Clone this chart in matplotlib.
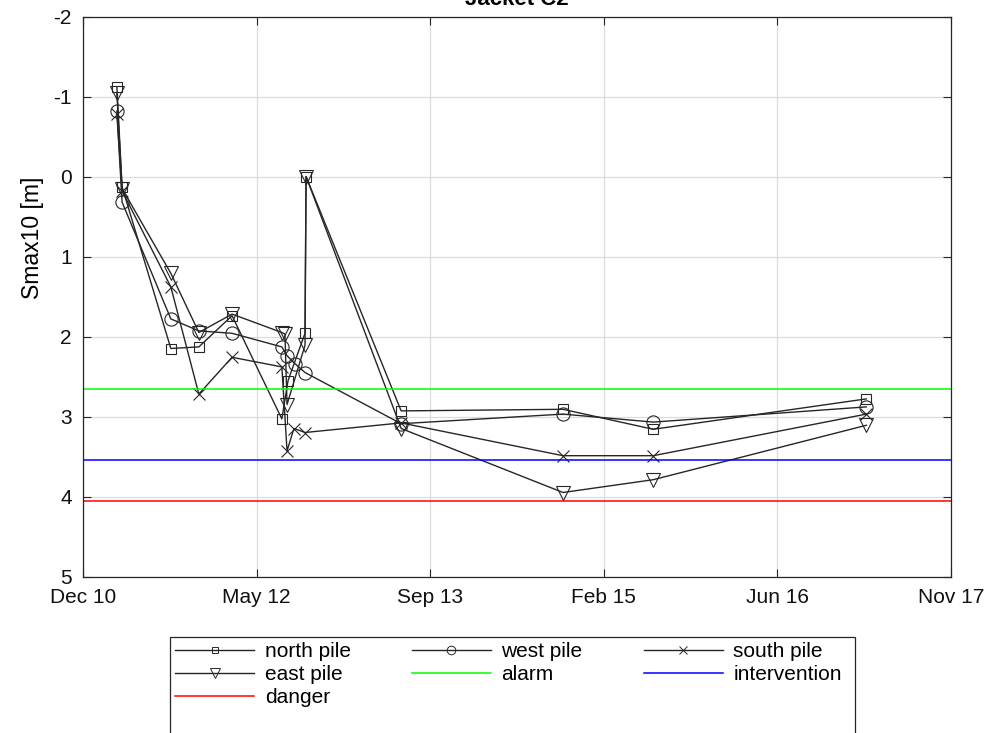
import numpy as np
import pandas as pd
import matplotlib
matplotlib.use("Agg")
import matplotlib.pyplot as plt
import matplotlib.dates as mdates
from matplotlib.lines import Line2D
from matplotlib.patches import Rectangle

plt.rcParams['font.family'] = ['Liberation Sans', 'DejaVu Sans']
plt.rcParams['axes.unicode_minus'] = False

# survey dates and Smax10 values per pile
north_dates = ["2011-04-02", "2011-04-17", "2011-09-05", "2011-11-25", "2012-02-29",
               "2012-07-22", "2012-08-09", "2012-09-27", "2012-09-30",
               "2013-07-02", "2014-10-13", "2015-07-01", "2017-03-08"]
north_vals = [-1.12, 0.13, 2.15, 2.13, 1.74, 3.03, 2.55, 1.96, 0.0, 2.93, 2.91, 3.16, 2.78]

west_dates = ["2011-04-02", "2011-04-17", "2011-09-05", "2011-11-25", "2012-02-29",
              "2012-07-22", "2012-08-06", "2012-08-29", "2012-09-27",
              "2013-07-02", "2014-10-13", "2015-07-01", "2017-03-08"]
west_vals = [-0.82, 0.32, 1.78, 1.93, 1.96, 2.13, 2.24, 2.34, 2.45, 3.09, 2.97, 3.07, 2.88]

south_dates = ["2011-04-02", "2011-04-17", "2011-09-05", "2011-11-25", "2012-02-29",
               "2012-07-22", "2012-08-06", "2012-08-26", "2012-09-27",
               "2013-07-02", "2014-10-13", "2015-07-01", "2017-03-08"]
south_vals = [-0.78, 0.18, 1.38, 2.72, 2.26, 2.38, 3.43, 3.15, 3.20, 3.08, 3.49, 3.49, 2.97]

east_dates = ["2011-04-02", "2011-04-17", "2011-09-05", "2011-11-25", "2012-02-29",
              "2012-07-22", "2012-07-31", "2012-08-06", "2012-09-27", "2012-09-30",
              "2013-07-02", "2014-10-13", "2015-07-01", "2017-03-08"]
east_vals = [-1.04, 0.15, 1.21, 1.95, 1.72, 1.95, 1.97, 2.85, 2.11, 0.0, 3.15, 3.95, 3.79, 3.11]

alarm_level = 2.65
intervention_level = 3.54
danger_level = 4.06

tick_start = pd.Timestamp("2010-12-25")
tick_step = 502  # days
n_ticks = 6

line_col = '#262626'

fig = plt.figure(figsize=(9.99, 7.33), dpi=100)
ax = fig.add_axes([83/999, 1 - 576.5/733, (951-83)/999, 560/733])

series = [(north_dates, north_vals, 's', 7.5, 'north pile'),
          (west_dates, west_vals, 'o', 9.5, 'west pile'),
          (south_dates, south_vals, 'x', 8, 'south pile'),
          (east_dates, east_vals, 'v', 10, 'east pile')]
hnds = {}
for dts, vals, mk, ms, lb in series:
    ax.plot(pd.to_datetime(dts), vals, color=line_col, lw=1.0, marker=mk, ms=ms,
            mfc='none', mec=line_col, mew=0.8)
    hnds[lb] = Line2D([], [], color=line_col, lw=1.0, marker=mk, ms=ms*0.65,
                      mfc='none', mec=line_col, mew=0.7, label=lb)

for lev, col, lb in [(alarm_level, '#00ff00', 'alarm'),
                     (intervention_level, '#0000ff', 'intervention'),
                     (danger_level, '#ff0000', 'danger')]:
    ax.axhline(lev, color=col, lw=1.1)
    hnds[lb] = Line2D([], [], color=col, lw=1.1, label=lb)

ticks = [tick_start + pd.Timedelta(days=tick_step*k) for k in range(n_ticks)]
ax.set_xlim(ticks[0], ticks[-1])
ax.set_xticks(ticks)
ax.xaxis.set_major_formatter(mdates.DateFormatter('%b %y'))
ax.set_ylim(5, -2)
ax.set_yticks(range(-2, 6))

ax.grid(True, color='#dcdcdc', lw=0.9)
ax.set_axisbelow(True)
for sp in ax.spines.values():
    sp.set_color(line_col)
    sp.set_linewidth(0.9)
ax.tick_params(direction='in', length=6, width=0.8, color=line_col,
               labelsize=15, labelcolor='#111111', top=True, right=True, pad=8)
ax.set_ylabel('Smax10 [m]', fontsize=16.5)
ax.yaxis.set_label_coords(-0.045, 0.605)

fig.text(517/999, 1 - 5/733, 'Jacket C2', ha='center', va='baseline',
         fontsize=16, fontweight='bold')

# legend filled row by row (matplotlib fills columns, so reorder)
order = ['north pile', 'east pile', 'danger', 'west pile', 'alarm',
         'south pile', 'intervention']
leg = fig.legend(handles=[hnds[k] for k in order], ncol=3, loc='upper left',
                 bbox_to_anchor=(170/999, 1 - 637/733), borderaxespad=0,
                 fontsize=15, handlelength=3.8, handletextpad=0.5,
                 columnspacing=2.93, labelspacing=0.19, borderpad=0.25,
                 frameon=False)
# legend box runs past the bottom edge of the figure
fig.add_artist(Rectangle((170/999, -0.02), (855-170)/999, 0.02 + 1 - 637/733,
                         transform=fig.transFigure, fill=False,
                         ec=line_col, lw=0.9))

fig.savefig('out.png', dpi=100)
